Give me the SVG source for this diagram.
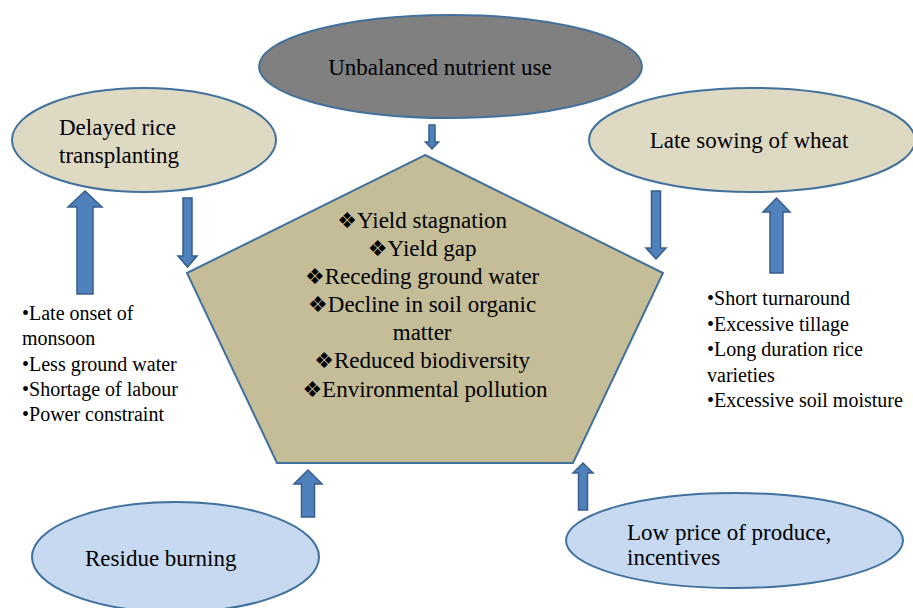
<svg xmlns="http://www.w3.org/2000/svg" width="913" height="608" viewBox="0 0 913 608">
  <style>
    .lbl, .list { font-family: 'Times New Roman', Times, Tinos, 'Liberation Serif', 'Noto Serif', 'DejaVu Serif', FreeSerif, serif; fill: #000; }
    .lbl { font-size: 23px; }
    .list { font-size: 20px; }
    .mark { font-family: 'DejaVu Sans', sans-serif; font-size: 22px; }
    .beige { fill: #ddd9c3; stroke: #41719c; stroke-width: 2; }
    .blue { fill: #c6d9f1; stroke: #41719c; stroke-width: 2; }
    .grey { fill: #808080; stroke: #41719c; stroke-width: 2; }
    .core { fill: #c4bd97; stroke: #41719c; stroke-width: 2; }
    .arr { fill: #4f81bd; stroke: #385d8a; stroke-width: 1.5; stroke-linejoin: miter; }
  </style>
  <rect width="913" height="608" fill="#ffffff"/>

  <!-- central problem pentagon -->
  <g id="core-problems">
    <polygon class="core" points="425,155 663,273 573,463 277,463 187,273"/>
    <text class="lbl" text-anchor="middle">
      <tspan x="425" y="228"><tspan class="mark">❖</tspan>Yield stagnation</tspan>
      <tspan x="425" y="256"><tspan class="mark">❖</tspan>Yield gap</tspan>
      <tspan x="425" y="284"><tspan class="mark">❖</tspan>Receding ground water</tspan>
      <tspan x="425" y="312"><tspan class="mark">❖</tspan>Decline in soil organic</tspan>
      <tspan x="425" y="340">matter</tspan>
      <tspan x="425" y="368"><tspan class="mark">❖</tspan>Reduced biodiversity</tspan>
      <tspan x="425" y="397"><tspan class="mark">❖</tspan>Environmental pollution</tspan>
    </text>
  </g>

  <g id="unbalanced-nutrient-use">
    <ellipse class="grey" cx="450.5" cy="66.5" rx="191.5" ry="51.5"/>
    <text class="lbl" x="440" y="75" text-anchor="middle">Unbalanced nutrient use</text>
  </g>

  <g id="delayed-rice-transplanting">
    <ellipse class="beige" cx="144" cy="140" rx="132" ry="52"/>
    <text class="lbl"><tspan x="59" y="135">Delayed rice</tspan><tspan x="59" y="163">transplanting</tspan></text>
  </g>

  <g id="late-sowing-of-wheat">
    <ellipse class="beige" cx="752" cy="140" rx="163" ry="52"/>
    <text class="lbl" x="749" y="148" text-anchor="middle">Late sowing of wheat</text>
  </g>

  <g id="residue-burning">
    <ellipse class="blue" cx="175.5" cy="557" rx="143.5" ry="55"/>
    <text class="lbl" x="85" y="566">Residue burning</text>
  </g>

  <g id="low-price">
    <ellipse class="blue" cx="734.5" cy="540.5" rx="168.5" ry="47.5"/>
    <text class="lbl"><tspan x="627" y="540">Low price of produce,</tspan><tspan x="627" y="565">incentives</tspan></text>
  </g>

  <g id="rice-causes">
    <text class="list">
      <tspan x="22" y="320">•Late onset of</tspan>
      <tspan x="22" y="345">monsoon</tspan>
      <tspan x="22" y="371">•Less ground water</tspan>
      <tspan x="22" y="396">•Shortage of labour</tspan>
      <tspan x="22" y="421">•Power constraint</tspan>
    </text>
  </g>

  <g id="wheat-causes">
    <text class="list">
      <tspan x="707" y="305">•Short turnaround</tspan>
      <tspan x="707" y="331">•Excessive tillage</tspan>
      <tspan x="707" y="356">•Long duration rice</tspan>
      <tspan x="707" y="382">varieties</tspan>
      <tspan x="707" y="407">•Excessive soil moisture</tspan>
    </text>
  </g>

  <!-- block arrows linking causes and the central problems -->
  <g id="connectors">
    <!-- nutrient use down into pentagon -->
    <polygon class="arr" points="429,125 435,125 435,142 438.5,142 432,149 425.5,142 429,142"/>
    <!-- rice transplanting down into pentagon -->
    <polygon class="arr" points="183,198 192,198 192,256 197,256 187.5,267 178,256 183,256"/>
    <!-- rice causes up to rice transplanting -->
    <polygon class="arr" points="77,294 93,294 93,207 102,207 85,191 68,207 77,207"/>
    <!-- wheat sowing down into pentagon -->
    <polygon class="arr" points="651.5,191 660.5,191 660.5,248 666,248 656,259 646,248 651.5,248"/>
    <!-- wheat causes up to wheat sowing -->
    <polygon class="arr" points="770,273 783,273 783,212 790,212 776.5,198 763,212 770,212"/>
    <!-- residue burning up into pentagon -->
    <polygon class="arr" points="301.5,517 314.5,517 314.5,484 322,484 308,470 294,484 301.5,484"/>
    <!-- low price up into pentagon -->
    <polygon class="arr" points="578.5,510 587.5,510 587.5,473 593,473 583,463 573,473 578.5,473"/>
  </g>
</svg>
